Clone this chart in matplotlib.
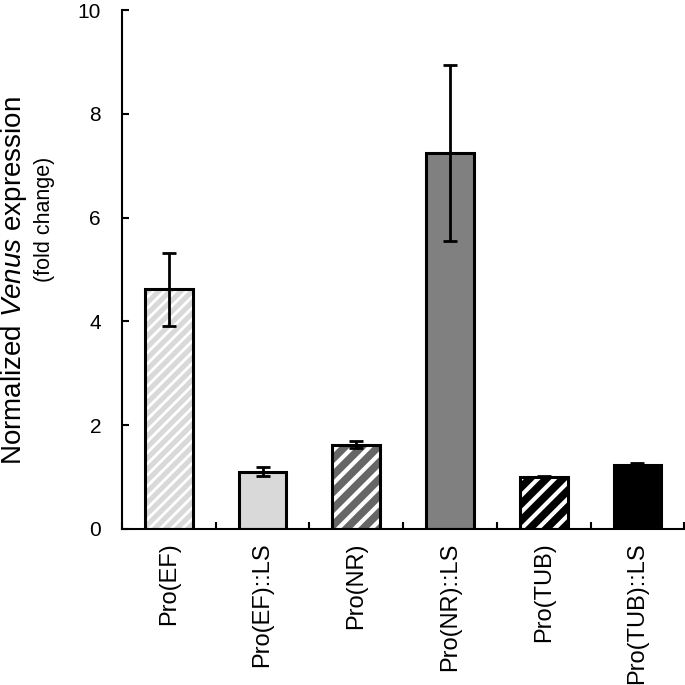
import numpy as np
import matplotlib
matplotlib.use('Agg')
import matplotlib.pyplot as plt

plt.rcParams['font.family'] = ['Liberation Sans', 'DejaVu Sans']
plt.rcParams['mathtext.fontset'] = 'custom'
plt.rcParams['mathtext.rm'] = 'Liberation Sans'
plt.rcParams['mathtext.it'] = 'Liberation Sans:italic'

categories = ['Pro(EF)', 'Pro(EF)::LS', 'Pro(NR)', 'Pro(NR)::LS', 'Pro(TUB)', 'Pro(TUB)::LS']
values = [4.62, 1.10, 1.62, 7.25, 1.00, 1.23]
errors = [0.70, 0.09, 0.07, 1.70, 0.01, 0.03]
face_colors = ['#d9d9d9', '#d9d9d9', '#666666', '#808080', '#000000', '#000000']
hatches = ['///', None, '//', None, '//', None]
hatch_widths = [2.0, 1.0, 3.0, 1.0, 3.0, 1.0]

fig = plt.figure(figsize=(6.85, 6.85), dpi=100)
ax = fig.add_axes([0.178, 0.228, 0.821, 0.757])

x = np.arange(len(categories))
for i in range(len(categories)):
    with plt.rc_context({'hatch.linewidth': hatch_widths[i]}):
        ax.bar(x[i], values[i], width=0.51, color=face_colors[i], edgecolor='white',
               hatch=hatches[i], linewidth=0, zorder=2)
ax.bar(x, values, width=0.51, fill=False, edgecolor='black', linewidth=2.2, zorder=3)
ax.errorbar(x, values, yerr=errors, fmt='none', ecolor='black', elinewidth=2,
            capsize=5, capthick=2, zorder=4)

ax.set_xlim(-0.5, len(categories) - 0.5)
ax.set_ylim(0, 10)
ax.set_yticks([0, 2, 4, 6, 8, 10])
ax.tick_params(axis='y', direction='in', length=5, width=1.5, labelsize=15, pad=15)

ax.set_xticks(x)
ax.set_xticklabels(categories, rotation=90, fontsize=17, va='top', ha='center')
ax.set_xticks(np.arange(len(categories) + 1) - 0.5, minor=True)
ax.tick_params(axis='x', which='major', length=0, pad=10)
ax.tick_params(axis='x', which='minor', direction='in', length=5, width=1.5)

for side in ['top', 'right']:
    ax.spines[side].set_visible(False)
for side in ['left', 'bottom']:
    ax.spines[side].set_linewidth(1.5)

# y label drawn as two lines, the first one larger as in the source figure
fig.text(0.021, 0.59, 'Normalized $\\mathit{Venus}$ expression', rotation=90,
         fontsize=20, ha='center', va='center')
fig.text(0.065, 0.68, '(fold change)', rotation=90, fontsize=15.5,
         ha='center', va='center')

fig.savefig('out.png', dpi=100)
